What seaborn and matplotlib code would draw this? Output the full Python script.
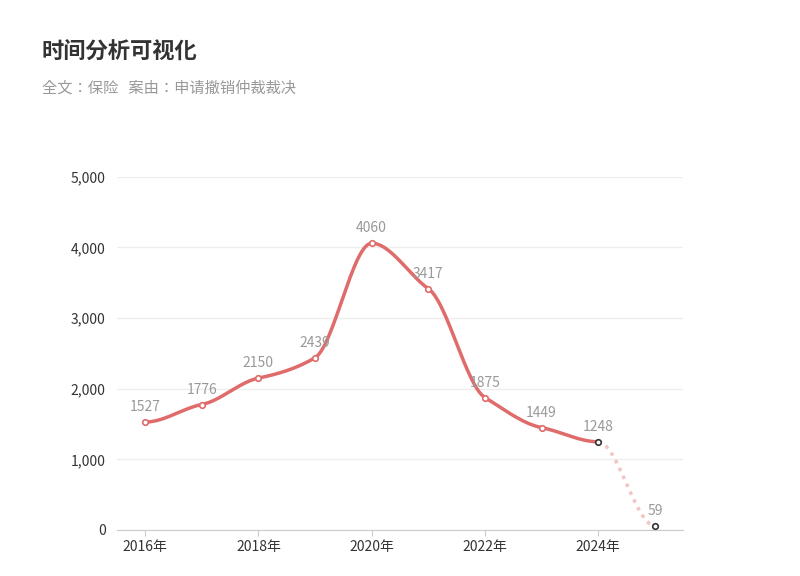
import glob
import numpy as np
import pandas as pd
import matplotlib
matplotlib.use("Agg")
import matplotlib.pyplot as plt
from matplotlib import font_manager
import seaborn as sns

# register a CJK font file explicitly
for f in glob.glob("/usr/share/fonts/**/*CJK*", recursive=True):
    try:
        font_manager.fontManager.addfont(f)
    except Exception:
        pass
names = {f.name for f in font_manager.fontManager.ttflist}
cjk = [n for n in ["Noto Sans CJK SC", "Noto Sans CJK JP", "Noto Sans CJK TC"] if n in names]
plt.rcParams["font.family"] = "sans-serif"
plt.rcParams["font.sans-serif"] = cjk + ["DejaVu Sans"]

years = [2016, 2017, 2018, 2019, 2020, 2021, 2022, 2023, 2024, 2025]
counts = [1527, 1776, 2150, 2439, 4060, 3417, 1875, 1449, 1248, 59]
tick_years = [2016, 2018, 2020, 2022, 2024]
tick_labels = ["2016年", "2018年", "2020年", "2022年", "2024年"]

df = pd.DataFrame({"year": years, "count": counts})

def smooth(x, y, n=30, k=0.5):
    # hermite spline, softened tangents, flat at local extrema
    x = np.asarray(x, float); y = np.asarray(y, float)
    m = np.zeros_like(y)
    for i in range(len(y)):
        if 0 < i < len(y) - 1:
            d1, d2 = y[i] - y[i - 1], y[i + 1] - y[i]
            m[i] = 0 if d1 * d2 <= 0 else k * (y[i + 1] - y[i - 1]) / 2
    xs, ys = [], []
    for i in range(len(y) - 1):
        t = np.linspace(0, 1, n)
        h00 = 2 * t**3 - 3 * t**2 + 1; h10 = t**3 - 2 * t**2 + t
        h01 = -2 * t**3 + 3 * t**2; h11 = t**3 - t**2
        xs.append(x[i] + t * (x[i + 1] - x[i]))
        ys.append(h00 * y[i] + h10 * m[i] + h01 * y[i + 1] + h11 * m[i + 1])
    return np.concatenate(xs), np.concatenate(ys)

fig = plt.figure(figsize=(8, 5.76), dpi=100)
ax = fig.add_axes([0.146, 0.080, 0.708, 0.613])
red = "#e06b6b"

sx, sy = smooth(df["year"][:9], df["count"][:9])
sns.lineplot(x=sx, y=sy, ax=ax, color=red, lw=2.5, sort=False)
tx, ty = smooth(df["year"][8:], df["count"][8:])
sns.lineplot(x=tx, y=ty, ax=ax, color="#f4c4c4", lw=2.5, ls=(0, (1, 1.5)), sort=False)

sns.scatterplot(data=df.iloc[:8], x="year", y="count", ax=ax, s=16, color="white",
                edgecolor=red, linewidth=1.2, zorder=5)
sns.scatterplot(data=df.iloc[8:], x="year", y="count", ax=ax, s=16, color="white",
                edgecolor="#333333", linewidth=1.2, zorder=5)
for xv, yv in zip(years, counts):
    ax.text(xv, yv + 110, str(yv), ha="center", va="bottom", fontsize=10, color="#999999")

ax.set_xlim(2015.5, 2025.5)
ax.set_ylim(0, 5000)
ax.set_yticks(range(0, 5001, 1000))
ax.set_yticklabels([f"{v:,}" for v in range(0, 5001, 1000)])
ax.set_xticks(tick_years)
ax.set_xticklabels(tick_labels)
ax.grid(axis="y", color="#eeeeee", lw=1)
ax.set_axisbelow(True)
for s in ["top", "right", "left"]:
    ax.spines[s].set_visible(False)
ax.spines["bottom"].set_color("#cccccc")
ax.tick_params(axis="y", length=0, labelsize=10, colors="#333333", pad=8)
ax.tick_params(axis="x", length=4, color="#cccccc", labelsize=10, colors="#333333")
ax.set_xlabel(""); ax.set_ylabel("")

fig.text(0.052, 0.91, "时间分析可视化", fontsize=16, fontweight="bold", color="#333333", va="center")
fig.text(0.052, 0.847, "全文：保险   案由：申请撤销仲裁裁决", fontsize=11, color="#999999", va="center")

fig.savefig("out.png", dpi=100)
